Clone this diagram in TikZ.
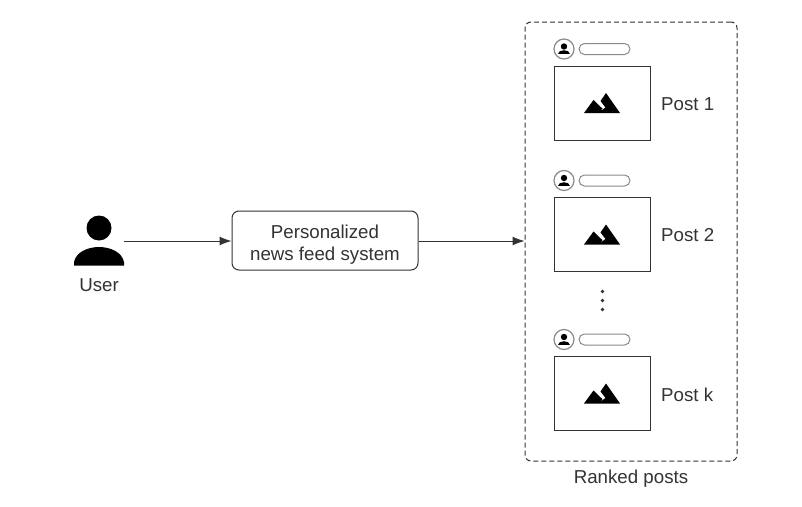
\documentclass[tikz,border=0pt]{standalone}
\usepackage{fontspec}
\setmainfont{Liberation Sans}
\usetikzlibrary{arrows.meta}
\definecolor{ink}{HTML}{333333}
\definecolor{pale}{HTML}{8A8A8A}
\tikzset{
  lbl/.style={font=\fontsize{18.7}{22}\selectfont,text=ink,inner sep=0pt},
  photo/.style={draw=ink,line width=1pt,minimum width=96pt,minimum height=74pt,inner sep=0pt},
  flow/.style={draw=ink,line width=1pt,-{Latex[length=12pt,width=9pt]}},
  pill/.style={draw=pale,line width=1pt,rounded corners=5.5pt,minimum width=51pt,minimum height=11pt,inner sep=0pt},
  avatar/.style={circle,draw=pale,line width=1.2pt,minimum size=20pt,inner sep=0pt},
  sysbox/.style={draw=ink,line width=1pt,rounded corners=7pt,minimum width=186pt,minimum height=59pt,align=center,inner sep=0pt,font=\fontsize{18.7}{22}\selectfont,text=ink},
  groupbox/.style={draw=ink,line width=1pt,dashed,dash pattern=on 5pt off 3pt,rounded corners=6pt,minimum width=212pt,minimum height=439pt,inner sep=0pt}
}
% #1 box name, #2 box centre y, #3 label
\newcommand{\postitem}[3]{%
  \node[photo] (#1) at (602,#2) {};
  \fill[black] (584,#2+10) -- (593.5,#2-3) -- (599.5,#2+3) -- (602.5,#2+5.5) -- (600,#2+8.5) -- (605.5,#2+4.5) -- (600.5,#2-2) -- (606,#2-10) -- (620,#2+10) -- cycle;
  \node[avatar] (#1a) at (564,#2-54) {};
  \fill[black] (564,#2-56.5) circle (3.2);
  \fill[black] (558,#2-49) .. controls (558,#2-54) and (570,#2-54) .. (570,#2-49) -- cycle;
  \node[pill] (#1p) at (604.5,#2-54) {};
  \node[lbl,anchor=west] (#1t) at (661,#2+1) {#3};
}
\begin{document}
\begin{tikzpicture}[x=1pt,y=-1pt]
\useasboundingbox[fill=white] (0,0) rectangle (802,506);
\node[groupbox] (group) at (631,241.5) {};
\node[lbl] (grouplabel) at (631,478.5) {Ranked posts};
\postitem{p1}{103}{Post 1}
\postitem{p2}{234.5}{Post 2}
\postitem{pk}{393.5}{Post k}
\node[sysbox] (sys) at (325,240.5) {\rule{0pt}{21pt}Personalized\\news feed system};
\fill[black] (99,228) circle (12.5);
\fill[black] (74,265.5) -- (74,262) .. controls (76,252) and (88,247) .. (99,247) .. controls (110,247) and (122,252) .. (124,262) -- (124,265.5) -- cycle;
\coordinate (userout) at (124,241);
\node[lbl] (user) at (99,285) {User};
\draw[flow] (userout) -- (sys.west |- userout);
\draw[flow] (sys.east |- userout) -- (group.west |- userout);
\foreach \yy in {291.5,300.5,309.5} \fill[ink] (602.5,\yy) circle (1.9);
\end{tikzpicture}
\end{document}
